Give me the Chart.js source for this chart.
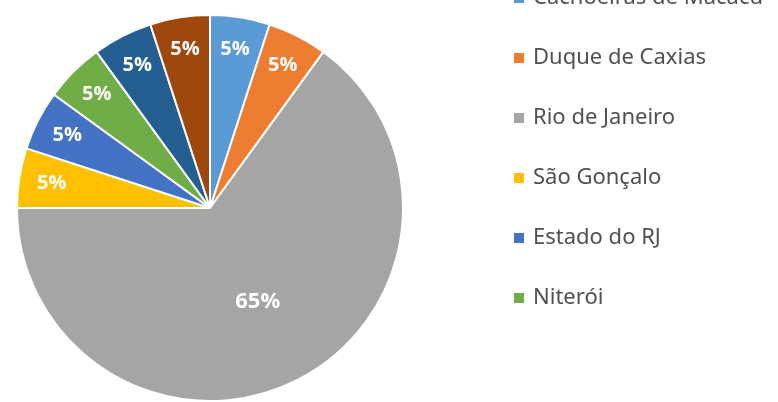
<!DOCTYPE html>
<html>
<head>
<meta charset="utf-8">
<script src="https://cdn.jsdelivr.net/npm/chart.js@4"></script>
<style>
  html, body { margin: 0; padding: 0; background: #fff; }
  #wrap { width: 778px; height: 402px; position: relative; }
</style>
</head>
<body>
<div id="wrap"><canvas id="grafico"></canvas></div>
<script>
// dados da pizza (sentido horário a partir do topo)
const municipios = [
  "Cachoeiras de Macacu",
  "Duque de Caxias",
  "Rio de Janeiro",
  "São Gonçalo",
  "Estado do RJ",
  "Niterói",
  "",
  ""
];
const percentuais = [5, 5, 65, 5, 5, 5, 5, 5];
const cores = ["#5B9BD5", "#ED7D31", "#A5A5A5", "#FFC000", "#4472C4", "#70AD47", "#255E91", "#9E480E"];

// rótulos de percentual dentro das fatias
const rotulosFatias = {
  id: "rotulosFatias",
  afterDatasetsDraw(chart) {
    const ctx = chart.ctx;
    const meta = chart.getDatasetMeta(0);
    const total = percentuais.reduce((s, v) => s + v, 0);
    ctx.save();
    ctx.fillStyle = "#ffffff";
    ctx.textAlign = "center";
    ctx.textBaseline = "middle";
    meta.data.forEach((arc, i) => {
      const v = percentuais[i];
      const grande = v / total > 0.5;
      const ang = (arc.startAngle + arc.endAngle) / 2;
      const r = arc.outerRadius * (grande ? 0.545 : 0.83);
      ctx.font = "bold " + (grande ? 22 : 20) + "px 'Open Sans', sans-serif";
      ctx.fillText(v + "%", arc.x + Math.cos(ang) * r, arc.y + Math.sin(ang) * r);
    });
    ctx.restore();
  }
};

// legenda desenhada à direita, centrada no centro da pizza
const legendaLateral = {
  id: "legendaLateral",
  afterDraw(chart) {
    const ctx = chart.ctx;
    const meta = chart.getDatasetMeta(0);
    const cy = meta.data[0].y;
    const passo = 60;
    const n = municipios.length;
    ctx.save();
    ctx.textBaseline = "middle";
    ctx.font = "22px 'Noto Sans', sans-serif";
    municipios.forEach((nome, i) => {
      if (!nome) return;
      const y = cy - ((n - 1) / 2) * passo + i * passo;
      ctx.fillStyle = cores[i];
      ctx.fillRect(514, y - 5, 10, 10);
      ctx.fillStyle = "#505050";
      ctx.fillText(nome, 533, y);
    });
    ctx.restore();
  }
};

new Chart(document.getElementById("grafico"), {
  type: "pie",
  data: {
    labels: municipios,
    datasets: [
      {
        data: percentuais,
        backgroundColor: cores,
        borderColor: "#ffffff",
        borderWidth: 2,
      },
    ],
  },
  options: {
    responsive: true,
    maintainAspectRatio: false,
    animation: false,
    layout: { padding: { left: 16, top: 14, right: 374, bottom: 0 } },
    plugins: {
      legend: { display: false },
      tooltip: { enabled: false },
    },
  },
  plugins: [rotulosFatias, legendaLateral],
});
</script>
</body>
</html>
